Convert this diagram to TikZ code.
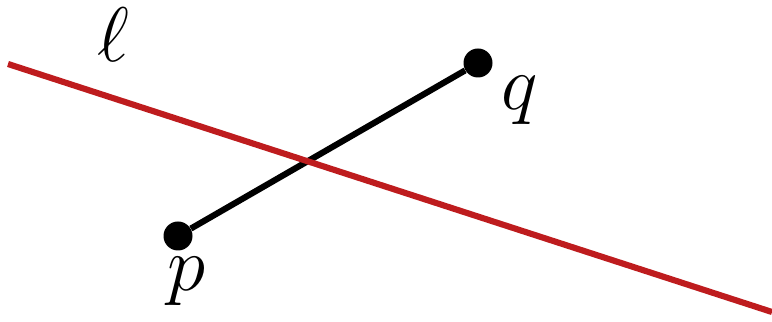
\documentclass[tikz,border=0pt]{standalone}
\usepackage{xcolor}
\usetikzlibrary{positioning}
\definecolor{lineRed}{RGB}{190, 28, 30}

\begin{document}
\begin{tikzpicture}[
        font=\Huge,
        lbl/.style={scale=1.77},
        pt/.style={circle, fill=black, inner sep=0pt, minimum size=0.58cm},
        seg/.style={line width=3.5pt, black},
        redline/.style={line width=3.5pt, lineRed}
    ]
    \useasboundingbox (0,0) rectangle (15.44,6.44);

    \coordinate (l1) at (0.16,5.16);
    \coordinate (l2) at (15.44,0.2);
    \node[pt] (p) at (3.56,1.72) {};
    \node[pt] (q) at (9.56,5.18) {};

    \draw[seg] (p) -- (q);
    \draw[redline] (l1) -- (l2);

    % labels
    \node[lbl] (ell) at (2.27,5.74) {$\ell$};
    \node[lbl] (lq)  at (10.4,4.44) {$q$};
    \node[lbl] (lp)  at (3.74,0.82) {$p$};
\end{tikzpicture}
\end{document}
